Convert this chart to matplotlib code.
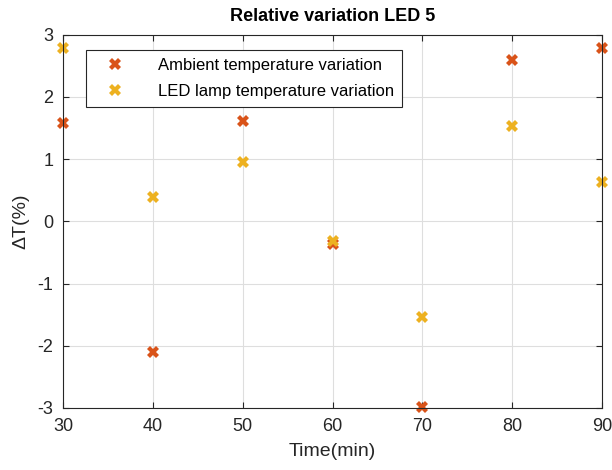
import matplotlib
matplotlib.use("Agg")
import matplotlib.pyplot as plt

plt.rcParams['font.family'] = ['Liberation Sans', 'DejaVu Sans']
plt.rcParams['axes.unicode_minus'] = False

time_min = [30, 40, 50, 60, 70, 80, 90]
ambient = [1.58, -2.10, 1.61, -0.37, -2.99, 2.59, 2.78]
led_lamp = [2.78, 0.39, 0.96, -0.31, -1.54, 1.53, 0.64]

fig = plt.figure(figsize=(6.12, 4.70), dpi=100)
ax = fig.add_axes([0.103, 0.132, 0.881, 0.794])

ax.plot(time_min, ambient, linestyle='none', marker='X', markersize=8,
        color='#D95319', markeredgewidth=0, label='Ambient temperature variation', clip_on=False)
ax.plot(time_min, led_lamp, linestyle='none', marker='X', markersize=8,
        color='#EDB120', markeredgewidth=0, label='LED lamp temperature variation', clip_on=False)

ax.set_xlim(30, 90)
ax.set_ylim(-3, 3)
ax.set_xticks(range(30, 91, 10))
ax.set_yticks(range(-3, 4))
ax.grid(True, color='#dedede', linewidth=0.8)
ax.set_axisbelow(True)
ax.tick_params(direction='in', labelsize=13, top=True, right=True, length=4, color='#262626',
               labelcolor='#262626', pad=7)
for s in ax.spines.values():
    s.set_color('#262626')
    s.set_linewidth(0.8)

ax.set_xlabel('Time(min)', fontsize=14, color='#262626', labelpad=6)
ax.set_ylabel('ΔT(%)', fontsize=14, color='#262626', labelpad=6)
ax.set_title('Relative variation LED 5', fontsize=13, fontweight='bold', pad=10)

leg = ax.legend(loc='upper left', bbox_to_anchor=(0.043, 0.96), fontsize=12, fancybox=False,
                edgecolor='#262626', framealpha=1, borderpad=0.5, handletextpad=1.3,
                labelspacing=0.65, handlelength=2.5, borderaxespad=0)
leg.get_frame().set_linewidth(0.8)

fig.savefig('out.png', dpi=100)
